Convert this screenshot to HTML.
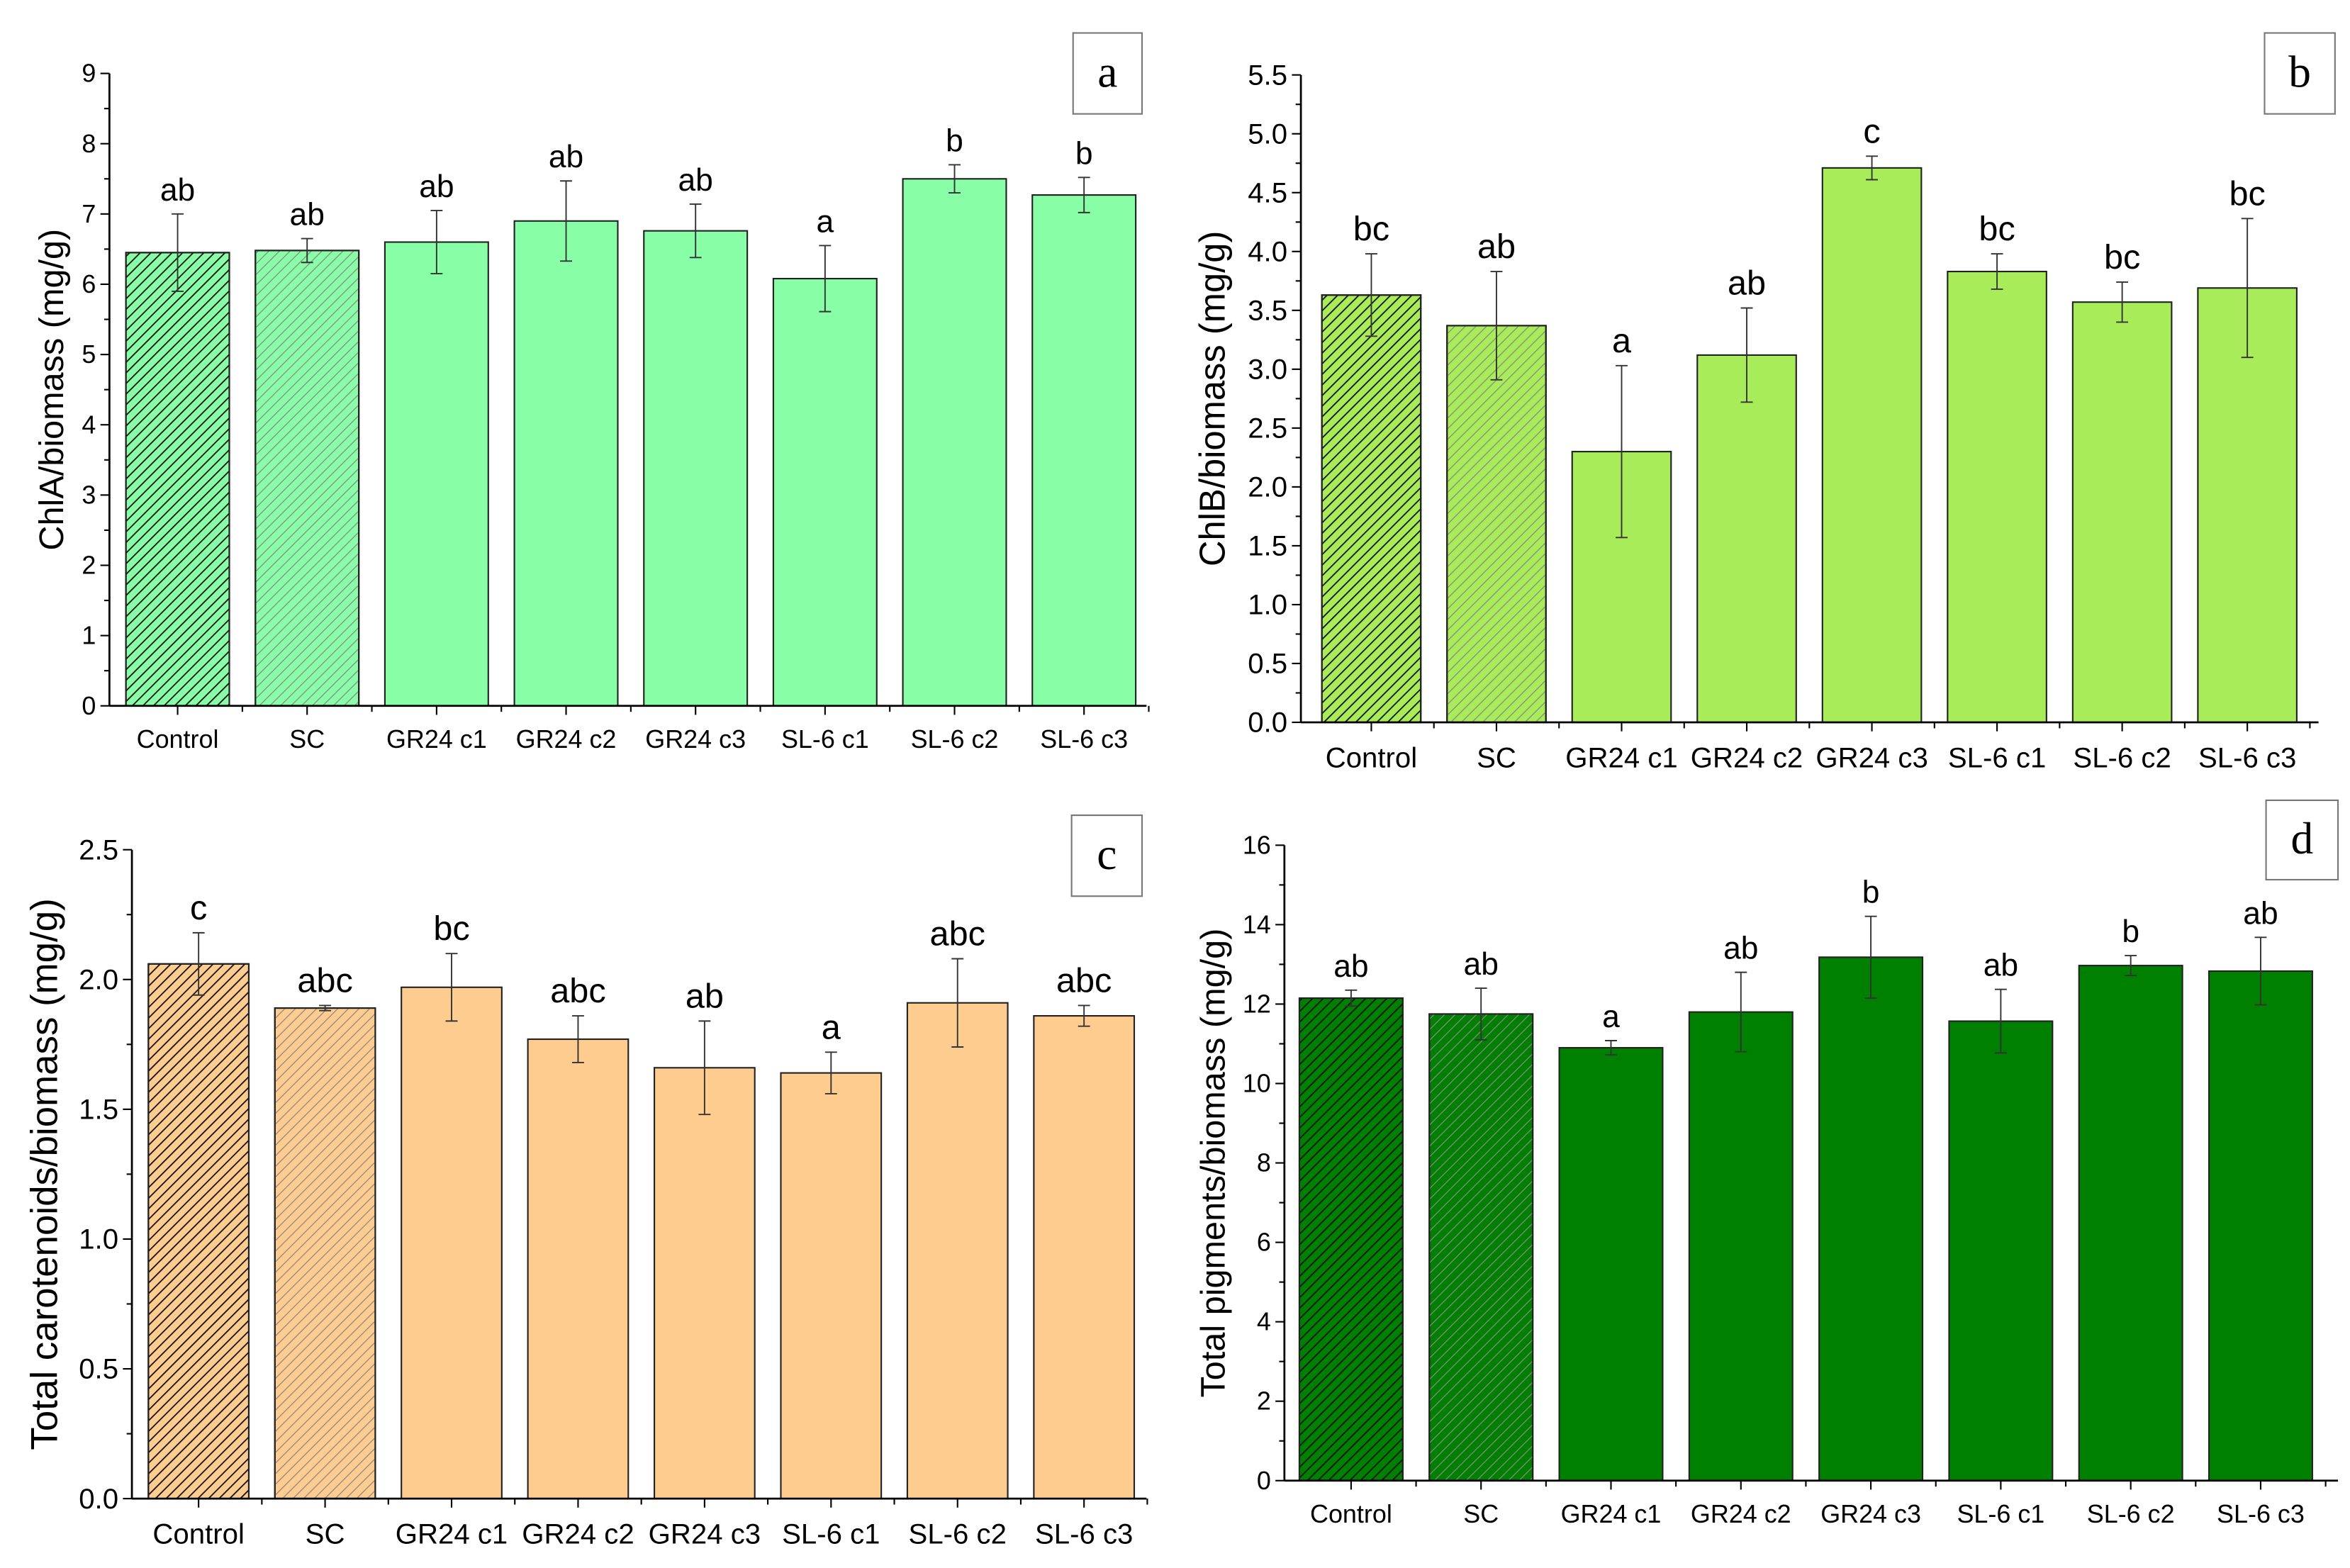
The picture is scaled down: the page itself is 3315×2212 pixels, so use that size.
<!DOCTYPE html>
<html><head><meta charset="utf-8"><style>
html,body{margin:0;padding:0;background:#fff;}
svg{display:block;}
text{font-family:"Liberation Sans Narrow","Liberation Sans",sans-serif;fill:#000;}
.title{font-family:"Liberation Sans",sans-serif;}
.lab{font-family:"Liberation Serif",serif;}
</style></head><body>
<svg id="fig" xmlns="http://www.w3.org/2000/svg" width="3315" height="2212" viewBox="0 0 1568 1046.3">
<defs>
<pattern id="hatchDark" patternUnits="userSpaceOnUse" width="5" height="5" patternTransform="rotate(45)">
<line x1="0" y1="0" x2="0" y2="5" stroke="#111" stroke-width="1.7"/></pattern>
<pattern id="hatchGray" patternUnits="userSpaceOnUse" width="5" height="5" patternTransform="rotate(45)">
<line x1="0" y1="0" x2="0" y2="5" stroke="#888" stroke-width="1.2"/></pattern>
</defs>
</svg>
<script>
const categories = ["Control","SC","GR24 c1","GR24 c2","GR24 c3","SL-6 c1","SL-6 c2","SL-6 c3"];
const valuesA = [6.45,6.48,6.6,6.9,6.76,6.08,7.5,7.27];
const errorsA = [0.55,0.17,0.45,0.57,0.38,0.47,0.2,0.25];
const lettersA = ["ab","ab","ab","ab","ab","a","b","b"];
const ticksA = ["0","1","2","3","4","5","6","7","8","9"];
const valuesB = [3.63,3.37,2.3,3.12,4.71,3.83,3.57,3.69];
const errorsB = [0.35,0.46,0.73,0.4,0.1,0.15,0.17,0.59];
const lettersB = ["bc","ab","a","ab","c","bc","bc","bc"];
const ticksB = ["0.0","0.5","1.0","1.5","2.0","2.5","3.0","3.5","4.0","4.5","5.0","5.5"];
const valuesC = [2.06,1.89,1.97,1.77,1.66,1.64,1.91,1.86];
const errorsC = [0.12,0.01,0.13,0.09,0.18,0.08,0.17,0.04];
const lettersC = ["c","abc","bc","abc","ab","a","abc","abc"];
const ticksC = ["0.0","0.5","1.0","1.5","2.0","2.5"];
const valuesD = [12.15,11.75,10.9,11.8,13.18,11.57,12.97,12.83];
const errorsD = [0.2,0.65,0.18,1.0,1.03,0.8,0.25,0.85];
const lettersD = ["ab","ab","a","ab","b","ab","b","ab"];
const ticksD = ["0","2","4","6","8","10","12","14","16"];

const NS="http://www.w3.org/2000/svg";
const svg=document.getElementById('fig');
function mk(tag,attrs,parent){const e=document.createElementNS(NS,tag);for(const k in attrs)e.setAttribute(k,attrs[k]);(parent||svg).appendChild(e);return e;}

function panel(p){
  const g=mk('g',{});
  
  
  const ymax=parseFloat(p.ticks[p.ticks.length-1]);
  const y=v=>p.y0-(v/ymax)*(p.y0-p.yTop);
  const x=i=>p.c0+i*p.step;
  p.vals.forEach((v,i)=>{
    const r=mk('rect',{x:x(i)-p.bw/2,y:y(v),width:p.bw,height:p.y0-y(v),fill:p.color,stroke:'#222','stroke-width':1},g);
    
    
    if(i<2){mk('rect',{x:x(i)-p.bw/2,y:y(v),width:p.bw,height:p.y0-y(v),fill:i==0?'url(#hatchDark)':'url(#hatchGray)',stroke:'#222','stroke-width':1},g);}
    const e=p.errs[i];
    const eb=mk('path',{d:`M${x(i)},${y(v+e)}V${y(v-e)}M${x(i)-4},${y(v+e)}H${x(i)+4}M${x(i)-4},${y(v-e)}H${x(i)+4}`,stroke:'#333','stroke-width':0.9,fill:'none'},g);
    
    
    const t=mk('text',{x:x(i),y:y(v+e)-9,'text-anchor':'middle','font-size':p.fs+6},g);
    t.textContent=p.letters[i];
    
    
    const cl=mk('text',{x:x(i),y:p.y0+p.fs+13,'text-anchor':'middle','font-size':p.fs+2},g);
    cl.textContent=categories[i];
    
    
    mk('line',{x1:x(i),x2:x(i),y1:p.y0,y2:p.y0+6,stroke:'#000','stroke-width':1},g);
    mk('line',{x1:x(i)+p.step/2,x2:x(i)+p.step/2,y1:p.y0,y2:p.y0+4,stroke:'#000','stroke-width':1},g);
  });
  mk('line',{x1:p.ax,x2:p.ax,y1:p.yTop,y2:p.y0,stroke:'#000','stroke-width':1.3},g);
  mk('line',{x1:p.ax,x2:p.xEnd,y1:p.y0,y2:p.y0,stroke:'#000','stroke-width':1.3},g);
  p.ticks.forEach((tk,k)=>{
    const v=parseFloat(tk),yy=y(v);
    mk('line',{x1:p.ax-6,x2:p.ax,y1:yy,y2:yy,stroke:'#000','stroke-width':1},g);
    if(k<p.ticks.length-1){const ym=y(v+(parseFloat(p.ticks[1])-parseFloat(p.ticks[0]))/2);mk('line',{x1:p.ax-3.5,x2:p.ax,y1:ym,y2:ym,stroke:'#000','stroke-width':1},g);}
    const t=mk('text',{x:p.ax-9,y:yy+p.fs*0.38,'text-anchor':'end','font-size':p.fs+2},g);
    t.textContent=tk;
    
    
  });
  const yt=mk('text',{x:0,y:0,'text-anchor':'middle','font-size':p.tfs,'class':'title',transform:`translate(${p.tx},${(p.yTop+p.y0)/2}) rotate(-90)`},g);
  yt.textContent=p.title;
  
  
  const bx=mk('rect',{x:p.box[0],y:p.box[1],width:p.box[2],height:p.box[3],fill:'#fff',stroke:'#777','stroke-width':1},g);
  
  
  const bl=mk('text',{x:p.box[0]+p.box[2]/2,y:p.box[1]+p.box[3]/2+9,'text-anchor':'middle','font-size':30,'class':'lab'},g);
  bl.textContent=p.id;
  
  
}
panel({id:'a',vals:valuesA,errs:errorsA,letters:lettersA,ticks:ticksA,color:'#88FFA6',ax:73,xEnd:765,yTop:49,y0:471,c0:118.5,step:86.4,bw:69,fs:15,tfs:23,tx:42,title:'ChlA/biomass (mg/g)',box:[716,22,46,54]});
panel({id:'b',vals:valuesB,errs:errorsB,letters:lettersB,ticks:ticksB,color:'#A8EC5A',ax:868,xEnd:1547,yTop:50,y0:482,c0:915,step:83.5,bw:66,fs:17,tfs:24,tx:817,title:'ChlB/biomass (mg/g)',box:[1511,22,47,54]});
panel({id:'c',vals:valuesC,errs:errorsC,letters:lettersC,ticks:ticksC,color:'#FFCC90',ax:88,xEnd:765,yTop:567,y0:1000,c0:132.5,step:84.4,bw:67,fs:17,tfs:25,tx:38,title:'Total carotenoids/biomass (mg/g)',box:[715,544,47,54]});
panel({id:'d',vals:valuesD,errs:errorsD,letters:lettersD,ticks:ticksD,color:'#008000',ax:857,xEnd:1560,yTop:564,y0:988,c0:901.5,step:86.7,bw:69,fs:15,tfs:23,tx:817,title:'Total pigments/biomass (mg/g)',box:[1512,534,48,53]});
</script>
</body></html>
